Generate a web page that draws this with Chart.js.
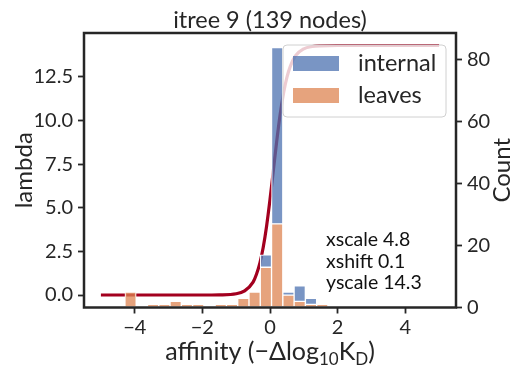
<!DOCTYPE html>
<html>
<head>
<meta charset="utf-8">
<script src="https://cdn.jsdelivr.net/npm/chart.js@4"></script>
<style>
html, body { margin: 0; padding: 0; background: #fff; }
</style>
</head>
<body>
<canvas id="myChart" width="513" height="369"></canvas>
<script>
// histogram bin centres (affinity), equal-width bins
const binCenters = [-4.123, -3.790, -3.456, -3.123, -2.789, -2.456, -2.122, -1.789, -1.455,
                    -1.122, -0.788, -0.455, -0.121, 0.212, 0.546, 0.879, 1.213, 1.546];
const leavesCounts   = [5, 0, 1, 1, 2, 1, 1, 0, 1, 1, 3, 5, 13, 27, 4, 2, 1, 1];
const internalCounts = [0, 0, 0, 0, 0, 0, 0, 0, 0, 0, 0, 0, 4, 57, 1, 5, 2, 0];

// fitted lambda curve
const lambdaX = [-5, -4, -3, -2, -1.5, -1, -0.75, -0.5, -0.4, -0.3, -0.2, -0.1, 0, 0.1,
                 0.2, 0.3, 0.4, 0.5, 0.6, 0.75, 1, 1.25, 1.5, 2, 3, 4, 5];
const lambdaY = [0, 0, 0, 0, 0.01, 0.07, 0.24, 0.74, 1.19, 1.83, 2.74, 3.96, 5.47, 7.15,
                 8.83, 10.34, 11.56, 12.47, 13.1, 13.7, 14.11, 14.24, 14.28, 14.3, 14.3, 14.3, 14.3];

const xTicks = [-4, -2, 0, 2, 4];
const lambdaTicks = [0, 2.5, 5, 7.5, 10, 12.5];
const countTicks = [0, 20, 40, 60, 80];

const fitParams = ['xscale 4.8', 'xshift 0.1', 'yscale 14.3'];

const FONT = "Lato, 'DejaVu Sans', sans-serif";
const INK = '#262626';
const blueFill = 'rgba(76, 114, 176, 0.75)';
const orangeFill = 'rgba(221, 132, 82, 0.75)';

function toPoints(xs, ys) {
    const pts = [];
    for (let i = 0; i < xs.length; i++) {
        pts.push({ x: xs[i], y: ys[i] === 0 ? null : ys[i] });
    }
    return pts;
}

function minusLabel(v) {
    return v < 0 ? '\u2212' + Math.abs(v) : String(v);
}

// frame, titles, legend and the fit text
const decorPlugin = {
    id: 'decor',
    afterDatasetsDraw(chart) {
        const ctx = chart.ctx;
        const a = chart.chartArea;
        ctx.save();

        // legend box
        const lx = 283, ly = 45, lw = 163, lh = 72;
        ctx.beginPath();
        ctx.roundRect(lx, ly, lw, lh, 4);
        ctx.fillStyle = 'rgba(255, 255, 255, 0.8)';
        ctx.fill();
        ctx.strokeStyle = '#d0d0d0';
        ctx.lineWidth = 1;
        ctx.stroke();

        const items = [
            { label: chart.data.datasets[2].label, color: blueFill, y: 56 },
            { label: chart.data.datasets[1].label, color: orangeFill, y: 88 }
        ];
        ctx.font = '23.5px ' + FONT;
        ctx.textBaseline = 'middle';
        ctx.textAlign = 'left';
        items.forEach(function(it) {
            ctx.fillStyle = it.color;
            ctx.fillRect(293, it.y, 46, 15);
            ctx.fillStyle = INK;
            ctx.fillText(it.label, 358, it.y + 7);
        });

        // fit parameters
        ctx.font = '19.5px ' + FONT;
        ctx.fillStyle = '#111';
        fitParams.forEach(function(t, i) {
            ctx.fillText(t, 326, 240 + i * 21.5);
        });

        // frame
        ctx.strokeStyle = INK;
        ctx.lineWidth = 2.5;
        ctx.strokeRect(a.left, a.top, a.right - a.left, a.bottom - a.top);

        // chart title
        ctx.fillStyle = INK;
        ctx.textAlign = 'center';
        ctx.font = '23.5px ' + FONT;
        ctx.fillText('itree 9 (139 nodes)', (a.left + a.right) / 2, 20);

        // y titles
        ctx.font = '24px ' + FONT;
        ctx.save();
        ctx.translate(24, (a.top + a.bottom) / 2);
        ctx.rotate(-Math.PI / 2);
        ctx.fillText('lambda', 0, 0);
        ctx.restore();
        ctx.save();
        ctx.translate(502, (a.top + a.bottom) / 2);
        ctx.rotate(-Math.PI / 2);
        ctx.fillText('Count', 0, 0);
        ctx.restore();

        // x title with subscripts
        const size = 25, subSize = 17;
        const parts = [
            { t: 'affinity (\u2212\u0394log', sub: false },
            { t: '10', sub: true },
            { t: 'K', sub: false },
            { t: 'D', sub: true },
            { t: ')', sub: false }
        ];
        let total = 0;
        parts.forEach(function(p) {
            ctx.font = (p.sub ? subSize : size) + 'px ' + FONT;
            p.w = ctx.measureText(p.t).width;
            total += p.w;
        });
        let x = (a.left + a.right) / 2 - total / 2;
        const baseY = 360;
        ctx.textAlign = 'left';
        ctx.textBaseline = 'alphabetic';
        parts.forEach(function(p) {
            ctx.font = (p.sub ? subSize : size) + 'px ' + FONT;
            ctx.fillText(p.t, x, p.sub ? baseY + 5 : baseY);
            x += p.w;
        });

        ctx.restore();
    }
};

const tickFont = { family: FONT, size: 20 };
const tickGrid = { offset: false, drawOnChartArea: false, drawTicks: true, tickLength: 6, tickWidth: 1.8, tickColor: INK };

const ctx = document.getElementById('myChart').getContext('2d');
const myChart = new Chart(ctx, {
    type: 'bar',
    data: {
        datasets: [
            {
                type: 'line',
                label: 'lambda',
                data: toPoints(lambdaX, lambdaY.map(v => v === 0 ? 0.0001 : v)),
                yAxisID: 'y',
                borderColor: '#a3001f',
                borderWidth: 3.2,
                pointRadius: 0,
                cubicInterpolationMode: 'monotone',
                order: 2
            },
            {
                label: 'leaves',
                data: toPoints(binCenters, leavesCounts),
                yAxisID: 'yCount',
                backgroundColor: orangeFill,
                borderColor: '#ffffff',
                borderWidth: 1,
                borderSkipped: false,
                barPercentage: 1,
                categoryPercentage: 1,
                order: 1
            },
            {
                label: 'internal',
                data: toPoints(binCenters, internalCounts),
                yAxisID: 'yCount',
                backgroundColor: blueFill,
                borderColor: '#ffffff',
                borderWidth: 1,
                borderSkipped: false,
                barPercentage: 1,
                categoryPercentage: 1,
                order: 1
            }
        ]
    },
    options: {
        responsive: false,
        animation: false,
        layout: { padding: { top: 33, left: 0, right: 0, bottom: 0 } },
        plugins: {
            legend: { display: false },
            tooltip: { enabled: false },
            title: { display: false }
        },
        scales: {
            x: {
                type: 'linear',
                min: -5.5,
                max: 5.5,
                offset: false,
                stacked: true,
                afterBuildTicks: function(s) { s.ticks = xTicks.map(v => ({ value: v })); },
                afterFit: function(s) { s.height = 61.5; },
                ticks: { font: tickFont, color: INK, padding: 2, maxRotation: 0, callback: v => minusLabel(v) },
                grid: tickGrid,
                border: { display: false }
            },
            y: {
                position: 'left',
                min: -0.715,
                max: 15.015,
                afterBuildTicks: function(s) { s.ticks = lambdaTicks.map(v => ({ value: v })); },
                afterFit: function(s) { s.width = 84; },
                ticks: { font: tickFont, color: INK, padding: 5, callback: v => v.toFixed(1) },
                grid: tickGrid,
                border: { display: false }
            },
            yCount: {
                position: 'right',
                min: 0,
                max: 88.7,
                stacked: true,
                afterBuildTicks: function(s) { s.ticks = countTicks.map(v => ({ value: v })); },
                afterFit: function(s) { s.width = 57; },
                ticks: { font: tickFont, color: INK, padding: 5, callback: v => String(v) },
                grid: tickGrid,
                border: { display: false }
            }
        }
    },
    plugins: [decorPlugin]
});
</script>
</body>
</html>
